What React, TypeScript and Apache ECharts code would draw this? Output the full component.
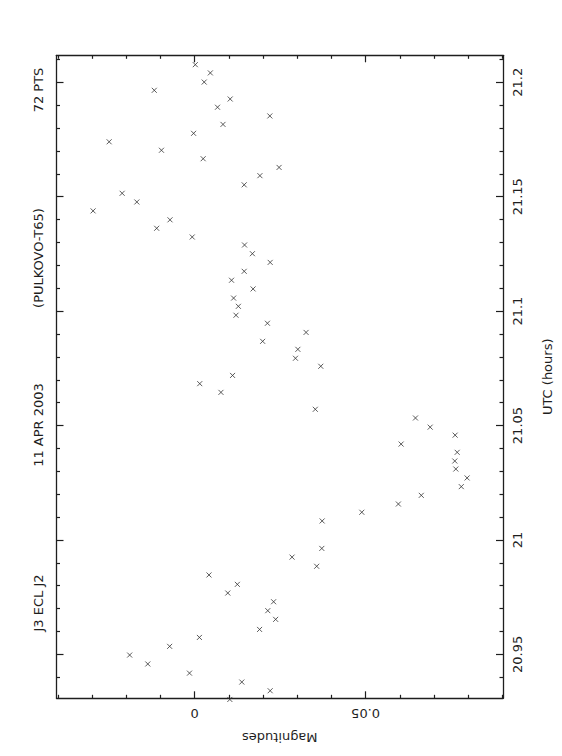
import React, { useEffect, useRef } from "react";
import * as echarts from "echarts";

const utcHours = [
  21.2077, 21.2041, 21.2001, 21.1965, 21.1927, 21.1891, 21.1853, 21.1816, 21.1777, 21.174,
  21.1703, 21.1666, 21.1628, 21.1592, 21.1552, 21.1515, 21.1477, 21.1438, 21.1399, 21.1362,
  21.1324, 21.1289, 21.1251, 21.1213, 21.1174, 21.1135, 21.1097, 21.1057, 21.1021, 21.0982,
  21.0947, 21.0907, 21.0868, 21.0833, 21.0794, 21.0759, 21.0719, 21.0683, 21.0645, 21.0571,
  21.0533, 21.0493, 21.0458, 21.0419, 21.0383, 21.0345, 21.031, 21.0271, 21.0233, 21.0195,
  21.0157, 21.0121, 21.0083, 20.9963, 20.9925, 20.9885, 20.9847, 20.9806, 20.9768, 20.973,
  20.9691, 20.9653, 20.9609, 20.9574, 20.9535, 20.9497, 20.9458, 20.9418, 20.9379, 20.9341, 20.9303,
];
const magnitudes = [
  0.0002, 0.0046, 0.0028, -0.0118, 0.0104, 0.0067, 0.022, 0.0083, -0.0003, -0.025,
  -0.0097, 0.0025, 0.0247, 0.0191, 0.0145, -0.0212, -0.0169, -0.0297, -0.0072, -0.0111,
  -0.0007, 0.0146, 0.0169, 0.0221, 0.0145, 0.0108, 0.0171, 0.0114, 0.0128, 0.0121,
  0.0213, 0.0326, 0.0199, 0.0302, 0.0295, 0.0369, 0.0111, 0.0015, 0.0077, 0.0353,
  0.0646, 0.0689, 0.0762, 0.0604, 0.0768, 0.0761, 0.0764, 0.0797, 0.078, 0.0663,
  0.0596, 0.0489, 0.0373, 0.0372, 0.0285, 0.0357, 0.0042, 0.0125, 0.0097, 0.0231,
  0.0214, 0.0237, 0.019, 0.0014, -0.0073, -0.019, -0.0137, -0.0015, 0.0138, 0.0221, 0.0103,
];

// Tick values
const magMajorTicks = [0, 0.05];
const magMinorTicks = [-0.04, -0.03, -0.02, -0.01, 0.01, 0.02, 0.03, 0.04, 0.06, 0.07, 0.08, 0.09];
const utcMajorTicks = [20.95, 21, 21.05, 21.1, 21.15, 21.2];
const utcMinorTicks = [
  20.94, 20.96, 20.97, 20.98, 20.99, 21.01, 21.02, 21.03, 21.04, 21.06, 21.07,
  21.08, 21.09, 21.11, 21.12, 21.13, 21.14, 21.16, 21.17, 21.18, 21.19, 21.21,
];

const titleParts = ["J3 ECL J2", "11 APR 2003", "(PULKOVO-T65)", "72 PTS"];
const magName = "Magnitudes";
const utcName = "UTC (hours)";

const MAG_MIN = -0.0404;
const MAG_MAX = 0.0902;
const UTC_MIN = 20.9308;
const UTC_MAX = 21.2118;

const FONT = "DejaVu Sans";
const INK = "#1e1e1e";

const fmt = (v: number) => String(Number(Number(v).toFixed(2)));

function xAx(position: string, ticks: number[], len: number, main: boolean) {
  return {
    type: "value",
    position,
    min: MAG_MIN,
    max: MAG_MAX,
    axisLine: { show: main, onZero: false, lineStyle: { color: INK, width: 1.3 } },
    axisTick: { show: true, inside: true, length: len, customValues: ticks, lineStyle: { color: INK, width: 1.2 } },
    axisLabel: main && position === "bottom"
      ? { show: true, customValues: magMajorTicks, rotate: 180, margin: 9, formatter: fmt, fontFamily: FONT, fontSize: 13, color: INK }
      : { show: false },
    splitLine: { show: false },
    ...(main && position === "bottom"
      ? { name: magName, nameLocation: "middle", nameGap: 33, nameRotate: 180, nameTextStyle: { fontFamily: FONT, fontSize: 13, color: INK } }
      : {}),
  };
}

function yAx(position: string, ticks: number[], len: number, main: boolean) {
  return {
    type: "value",
    position,
    min: UTC_MIN,
    max: UTC_MAX,
    axisLine: { show: main, onZero: false, lineStyle: { color: INK, width: 1.3 } },
    axisTick: { show: true, inside: true, length: len, customValues: ticks, lineStyle: { color: INK, width: 1.2 } },
    axisLabel: main && position === "right"
      ? { show: true, customValues: utcMajorTicks, rotate: 90, margin: 8, formatter: fmt, fontFamily: FONT, fontSize: 13, color: INK }
      : { show: false },
    splitLine: { show: false },
    ...(main && position === "right"
      ? { name: utcName, nameLocation: "middle", nameGap: 38, nameRotate: 90, nameTextStyle: { fontFamily: FONT, fontSize: 13, color: INK } }
      : {}),
  };
}

export default function App() {
  const ref = useRef<HTMLDivElement>(null);
  useEffect(() => {
    if (!ref.current) return;
    const chart = echarts.init(ref.current, undefined, { renderer: "svg" });
    const titleY = [603, 425, 258, 90];
    chart.setOption({
      animation: false,
      backgroundColor: "#ffffff",
      grid: { left: 56.5, top: 55.3, right: 58, bottom: 57.7, containLabel: false },
      xAxis: [
        xAx("bottom", magMajorTicks, 7, true),
        xAx("bottom", magMinorTicks, 3.5, false),
        xAx("top", magMajorTicks, 7, true),
        xAx("top", magMinorTicks, 3.5, false),
      ],
      yAxis: [
        yAx("right", utcMajorTicks, 7, true),
        yAx("right", utcMinorTicks, 3.5, false),
        yAx("left", utcMajorTicks, 7, true),
        yAx("left", utcMinorTicks, 3.5, false),
      ],
      graphic: titleParts.map((t, i) => ({
        type: "text",
        x: 38,
        y: titleY[i],
        rotation: Math.PI / 2,
        style: {
          text: t,
          fontFamily: FONT,
          fontSize: 13,
          fill: INK,
          textAlign: "center",
          textVerticalAlign: "middle",
        },
      })),
      series: [
        {
          type: "scatter",
          xAxisIndex: 0,
          yAxisIndex: 0,
          data: utcHours.map((t, i) => [magnitudes[i], t]),
          symbol: "path://M0,0L10,10M10,0L0,10",
          symbolSize: 5,
          itemStyle: { color: "none", borderColor: "#333", borderWidth: 1 },
          clip: false,
          silent: true,
        },
      ],
    });
    return () => chart.dispose();
  }, []);
  return (
    <div
      ref={ref}
      style={{ position: "absolute", left: 0, top: 0, width: 562, height: 756, background: "#fff" }}
    />
  );
}
